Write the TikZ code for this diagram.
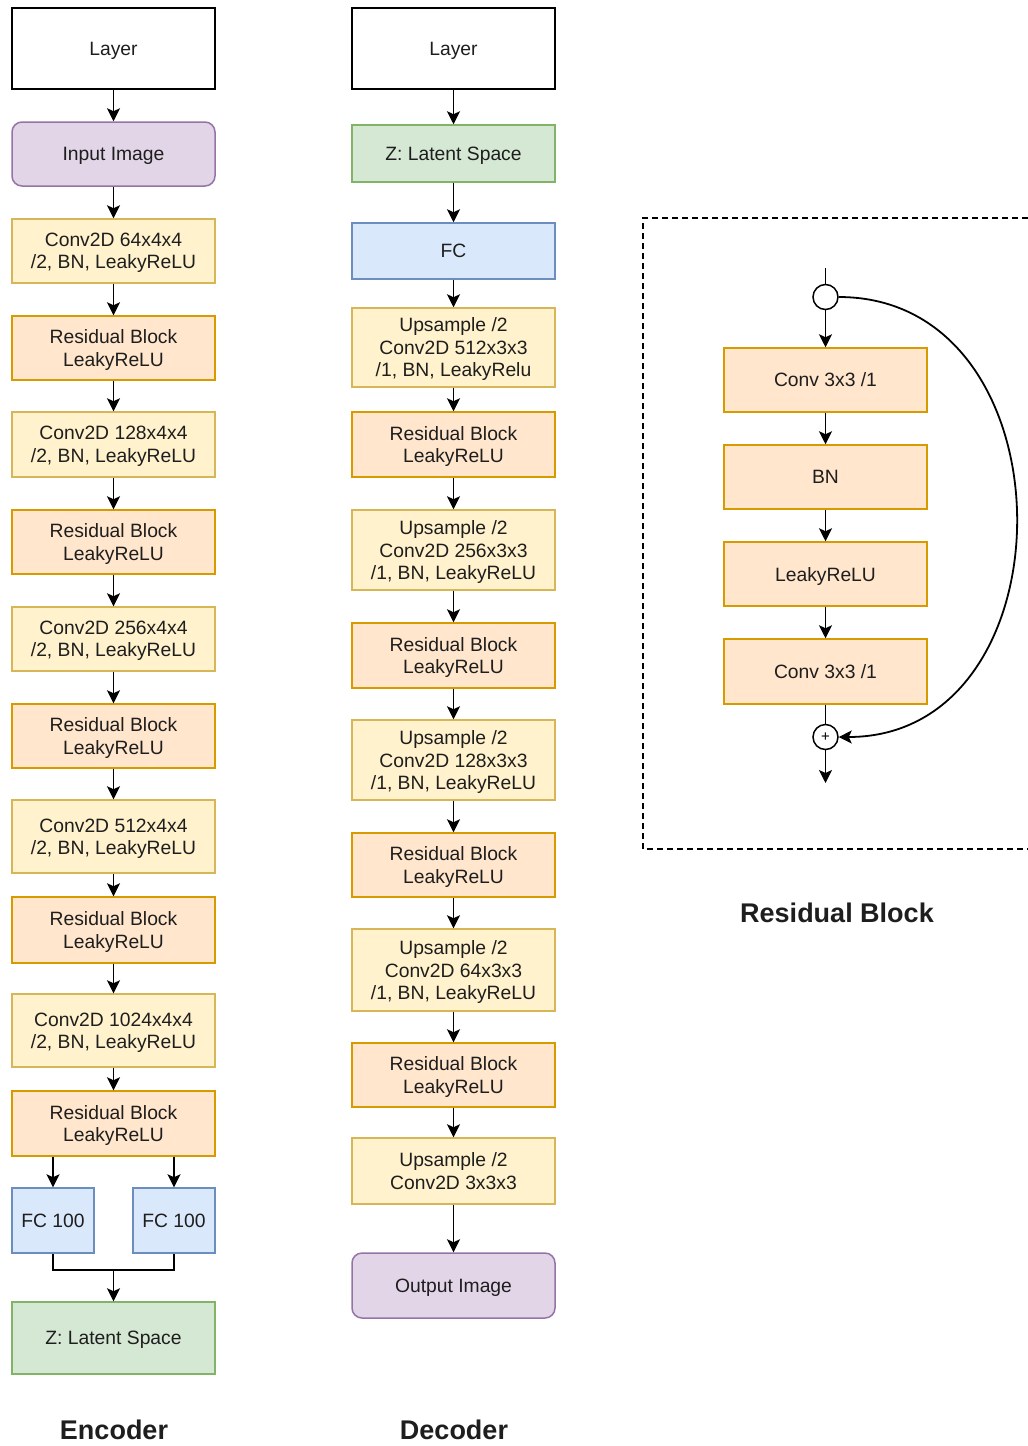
\documentclass[tikz,border=0pt]{standalone}
\usepackage{fontspec}
\setmainfont{Liberation Sans}
\usetikzlibrary{arrows.meta}

\definecolor{txt}{HTML}{1E1E1E}
\definecolor{yelF}{HTML}{FFF2CC}\definecolor{yelD}{HTML}{D6B656}
\definecolor{oraF}{HTML}{FFE6CC}\definecolor{oraD}{HTML}{D79B00}
\definecolor{bluF}{HTML}{DAE8FC}\definecolor{bluD}{HTML}{6C8EBF}
\definecolor{grnF}{HTML}{D5E8D4}\definecolor{grnD}{HTML}{82B366}
\definecolor{purF}{HTML}{E1D5E7}\definecolor{purD}{HTML}{9673A6}

\begin{document}
\begin{tikzpicture}[x=1pt,y=-1pt,
  box/.style={draw, line width=1.5pt, minimum width=203pt, inner sep=0pt,
    text depth=0pt, align=center, text=txt, font=\fontsize{19.3}{22.5}\selectfont},
  plainbox/.style={box, draw=black, fill=white},
  yelbox/.style={box, draw=yelD, fill=yelF},
  orabox/.style={box, draw=oraD, fill=oraF},
  blubox/.style={box, draw=bluD, fill=bluF},
  grnbox/.style={box, draw=grnD, fill=grnF},
  purbox/.style={box, draw=purD, fill=purF, rounded corners=10pt},
  flow/.style={-{Stealth[length=13pt,width=13pt,inset=3pt,fill=black,line width=1pt]},
    line width=1.8pt, draw=black},
  wire/.style={line width=1.8pt, draw=black},
  junction/.style={circle, draw=black, fill=white, line width=1.5pt, minimum size=25pt, inner sep=0pt},
  title/.style={text=txt, font=\fontsize{27}{27}\selectfont\bfseries}]

\useasboundingbox (0,0) rectangle (1028,1446);

% ---------------- Encoder ----------------
\node[plainbox, minimum height=81pt] (eL) at (113.5,48.5) {Layer};
\node[purbox, minimum height=64pt] (eIn) at (113.5,154) {Input Image};
\node[yelbox, minimum height=64pt] (e1) at (113.5,251) {Conv2D 64x4x4\\/2, BN, LeakyReLU};
\node[orabox, minimum height=64pt] (er1) at (113.5,348) {Residual Block\\LeakyReLU};
\node[yelbox, minimum height=65pt] (e2) at (113.5,444.5) {Conv2D 128x4x4\\/2, BN, LeakyReLU};
\node[orabox, minimum height=64pt] (er2) at (113.5,542) {Residual Block\\LeakyReLU};
\node[yelbox, minimum height=64pt] (e3) at (113.5,639) {Conv2D 256x4x4\\/2, BN, LeakyReLU};
\node[orabox, minimum height=64pt] (er3) at (113.5,736) {Residual Block\\LeakyReLU};
\node[yelbox, minimum height=73pt] (e4) at (113.5,836.5) {Conv2D 512x4x4\\/2, BN, LeakyReLU};
\node[orabox, minimum height=66pt] (er4) at (113.5,930) {Residual Block\\LeakyReLU};
\node[yelbox, minimum height=73pt] (e5) at (113.5,1030.5) {Conv2D 1024x4x4\\/2, BN, LeakyReLU};
\node[orabox, minimum height=65pt] (er5) at (113.5,1123.5) {Residual Block\\LeakyReLU};
\node[blubox, minimum width=82pt, minimum height=65pt] (fcA) at (53,1220.5) {FC 100};
\node[blubox, minimum width=82pt, minimum height=65pt] (fcB) at (174,1220.5) {FC 100};
\node[grnbox, minimum height=72pt] (eZ) at (113.5,1338) {Z: Latent Space};

\foreach \a/\b in {eL/eIn, eIn/e1, e1/er1, er1/e2, e2/er2, er2/e3, e3/er3,
                   er3/e4, e4/er4, er4/e5, e5/er5}
  \draw[flow] (\a) -- (\b);
\draw[flow] (er5.south -| fcA.north) -- (fcA.north);
\draw[flow] (er5.south -| fcB.north) -- (fcB.north);
\coordinate (merge) at (113.5,1270);
\draw[wire] (fcA.south) |- (merge) -| (fcB.south);
\draw[flow] (merge) -- (eZ.north);

\node[title] (encT) at (114,1430) {Encoder};

% ---------------- Decoder ----------------
\node[plainbox, minimum height=81pt] (dL) at (453.5,48.5) {Layer};
\node[grnbox, minimum height=57pt] (dZ) at (453.5,153.5) {Z: Latent Space};
\node[blubox, minimum height=56pt] (dFC) at (453.5,251) {FC};
\node[yelbox, minimum height=79pt] (u1) at (453.5,347.5) {Upsample /2\\Conv2D 512x3x3\\/1, BN, LeakyRelu};
\node[orabox, minimum height=65pt] (dr1) at (453.5,444.5) {Residual Block\\LeakyReLU};
\node[yelbox, minimum height=80pt] (u2) at (453.5,550) {Upsample /2\\Conv2D 256x3x3\\/1, BN, LeakyReLU};
\node[orabox, minimum height=65pt] (dr2) at (453.5,655.5) {Residual Block\\LeakyReLU};
\node[yelbox, minimum height=80pt] (u3) at (453.5,760) {Upsample /2\\Conv2D 128x3x3\\/1, BN, LeakyReLU};
\node[orabox, minimum height=64pt] (dr3) at (453.5,865) {Residual Block\\LeakyReLU};
\node[yelbox, minimum height=82pt] (u4) at (453.5,970) {Upsample /2\\Conv2D 64x3x3\\/1, BN, LeakyReLU};
\node[orabox, minimum height=64pt] (dr4) at (453.5,1075) {Residual Block\\LeakyReLU};
\node[yelbox, minimum height=66pt] (u5) at (453.5,1171) {Upsample /2\\Conv2D 3x3x3};
\node[purbox, minimum height=65pt] (dOut) at (453.5,1285.5) {Output Image};

\foreach \a/\b in {dL/dZ, dZ/dFC, dFC/u1, u1/dr1, dr1/u2, u2/dr2, dr2/u3,
                   u3/dr3, dr3/u4, u4/dr4, dr4/u5, u5/dOut}
  \draw[flow] (\a) -- (\b);

\node[title] (decT) at (454,1430) {Decoder};

% ---------------- Residual block detail ----------------
\draw[line width=1.5pt, dash pattern=on 6pt off 4pt] (1028,218) -| (643,849) -- (1028,849);

\coordinate (rIn) at (825.5,268);
\node[junction] (split) at (825.5,297) {};
\node[orabox, minimum height=64pt] (ra) at (825.5,380) {Conv 3x3 /1};
\node[orabox, minimum height=64pt] (rb) at (825.5,477) {BN};
\node[orabox, minimum height=64pt] (rc) at (825.5,574) {LeakyReLU};
\node[orabox, minimum height=65pt] (rd) at (825.5,671.5) {Conv 3x3 /1};
\node[junction, font=\fontsize{15}{15}\selectfont] (sum) at (825.5,737) {+};
\coordinate (rOut) at (825.5,783);

\draw[wire] (rIn) -- (split.north);
\draw[flow] (split) -- (ra);
\draw[flow] (ra) -- (rb);
\draw[flow] (rb) -- (rc);
\draw[flow] (rc) -- (rd);
\draw[wire] (rd) -- (sum);
\draw[flow] (sum) -- (rOut);
\draw[flow] (split.east) .. controls (1075,297) and (1075,737) .. (sum.east);

\node[title] (resT) at (837,913) {Residual Block};

\end{tikzpicture}
\end{document}
